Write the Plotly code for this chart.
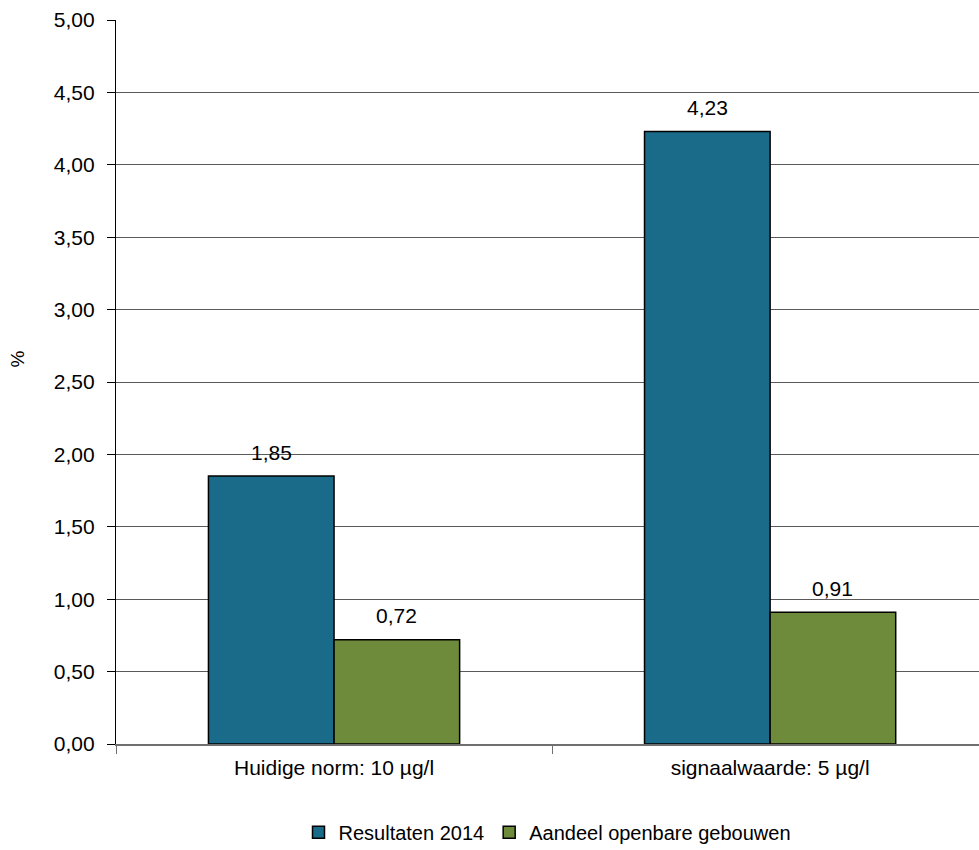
import plotly.graph_objects as go

categories = ["Huidige norm: 10 µg/l", "signaalwaarde: 5 µg/l"]
series_names = ["Resultaten 2014", "Aandeel openbare gebouwen"]
resultaten = [1.85, 4.23]
aandeel = [0.72, 0.91]
colors = ["#1A6B89", "#6E8B3B"]

FONT = "Liberation Sans, Arial"
fig = go.Figure()
for name, vals, col, off in [(series_names[0], resultaten, colors[0], -0.144),
                             (series_names[1], aandeel, colors[1], 0.144)]:
    fig.add_trace(go.Bar(
        x=categories, y=vals, name=name,
        marker=dict(color=col, line=dict(color="#000000", width=1.5)),
    ))
    for i, v in enumerate(vals):
        fig.add_annotation(
            x=i + off, y=v, xref="x", yref="y",
            text=f"{v:.2f}".replace(".", ","),
            showarrow=False, yshift=24,
            font=dict(family=FONT, size=21, color="#000000"),
        )

fig.add_annotation(
    text="%", xref="paper", yref="paper", x=-0.114, y=0.532,
    xanchor="center", yanchor="middle", textangle=-90, showarrow=False,
    font=dict(family=FONT, size=19, color="#000000"),
)

fig.update_layout(
    width=979, height=850,
    margin=dict(l=116, r=0, t=20, b=106, autoexpand=False),
    paper_bgcolor="white", plot_bgcolor="white",
    barmode="group", bargap=0.424, bargroupgap=0,
    separators=",.",
    font=dict(family=FONT, size=20, color="#000000"),
    legend=dict(orientation="h", x=0.5, xanchor="center",
                yref="container", y=0.021, yanchor="middle",
                font=dict(size=20), itemwidth=30, tracegroupgap=0),
    showlegend=True,
)
fig.update_yaxes(
    range=[0, 5], dtick=0.5, tickformat=".2f",
    showgrid=True, gridcolor="#5a5a5a", gridwidth=1,
    showline=True, linecolor="#000000", linewidth=1.2,
    ticks="outside", ticklen=8, tickcolor="#000000",
    zeroline=False, ticklabelstandoff=8, automargin=False,
    tickfont=dict(size=21),
)
fig.update_xaxes(
    range=[-0.5, 1.479],
    showline=True, linecolor="#6f6f6f", linewidth=1.5,
    ticks="outside", tickson="boundaries", ticklen=8, tickcolor="#6f6f6f",
    showgrid=False, ticklabelstandoff=4, automargin=False,
    tickfont=dict(size=21),
)
fig.write_html("out.html")
